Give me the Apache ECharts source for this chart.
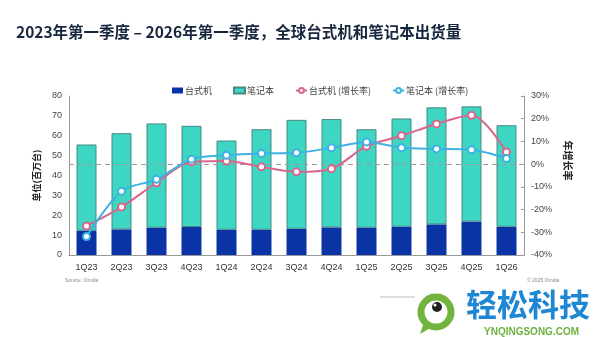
<!DOCTYPE html>
<html>
<head>
<meta charset="utf-8">
<script src="https://cdn.jsdelivr.net/npm/echarts@6/dist/echarts.min.js"></script>
<style>html,body{margin:0;padding:0;background:#fff;}#c{width:600px;height:337px;}</style>
</head>
<body>
<div id="c"></div>
<script>
const categories = ['1Q23','2Q23','3Q23','4Q23','1Q24','2Q24','3Q24','4Q24','1Q25','2Q25','3Q25','4Q25','1Q26'];
const desktop = [12.2, 12.9, 13.7, 14.1, 12.7, 12.7, 13.2, 13.9, 13.7, 14.2, 15.4, 16.8, 14.2];
const notebook = [43.4, 48.4, 52.5, 50.9, 44.9, 50.6, 54.8, 54.5, 49.6, 54.5, 58.9, 58.0, 51.1];
const desktopGrowth = [-27.2, -18.9, -8.2, 1.0, 1.4, -1.2, -3.4, -2.0, 7.9, 12.5, 17.7, 21.5, 5.4];
const notebookGrowth = [-31.9, -11.9, -6.7, 2.2, 3.9, 4.7, 5.0, 7.2, 9.8, 7.2, 6.7, 6.3, 2.5];
const leftTicks = {min: 0, max: 80, interval: 10};
const rightTicks = {min: -40, max: 30, interval: 10};

const chart = echarts.init(document.getElementById('c'), null, {renderer: 'canvas'});
const font = 'Arial, "Liberation Sans", "Noto Sans CJK SC", sans-serif';
const cjk = '"Noto Sans CJK SC", "Microsoft YaHei", sans-serif';

chart.setOption({
  backgroundColor: '#fff',
  animation: false,
  textStyle: {fontFamily: font},
  title: {
    text: '2023年第一季度 – 2026年第一季度，全球台式机和笔记本出货量',
    left: 11, top: 19,
    textStyle: {fontSize: 15.5, fontWeight: 'bold', color: '#17263d', fontFamily: '"Noto Sans CJK SC", Arial, sans-serif'}
  },
  legend: {
    left: 172, top: 86, padding: 0,
    itemWidth: 11, itemHeight: 6, itemGap: 21,
    textStyle: {fontSize: 9, color: '#444', fontFamily: cjk, padding: [0, 0, 0, -3]},
    data: [
      {name: '台式机', icon: 'rect'},
      {name: '笔记本', icon: 'rect'},
      {name: '台式机 (增长率)'},
      {name: '笔记本 (增长率)'}
    ]
  },
  grid: {left: 69, right: 76, top: 96, bottom: 82},
  xAxis: {
    type: 'category', data: categories,
    axisLine: {lineStyle: {color: '#999', width: 1}},
    axisTick: {show: false},
    axisLabel: {fontSize: 9, color: '#333', margin: 8}
  },
  yAxis: [
    {
      type: 'value', min: leftTicks.min, max: leftTicks.max, interval: leftTicks.interval,
      name: '单位(百万台)', nameLocation: 'middle', nameGap: 28, nameRotate: 90,
      nameTextStyle: {fontSize: 9, fontWeight: 'bold', color: '#222', fontFamily: cjk},
      axisLine: {show: true, lineStyle: {color: '#999'}},
      axisTick: {show: false},
      splitLine: {show: false},
      axisLabel: {fontSize: 9, color: '#444', margin: 7}
    },
    {
      type: 'value', min: rightTicks.min, max: rightTicks.max, interval: rightTicks.interval,
      name: '年增长率', nameLocation: 'middle', nameGap: 38, nameRotate: -90,
      nameTextStyle: {fontSize: 10, fontWeight: 'bold', color: '#222', fontFamily: cjk, padding: [0, 30, 0, 0]},
      axisLine: {show: true, lineStyle: {color: '#999'}},
      axisTick: {show: true, inside: true, length: 3, lineStyle: {color: '#999'}},
      splitLine: {show: false},
      axisLabel: {fontSize: 9, color: '#444', margin: 7, formatter: '{value}%'}
    }
  ],
  series: [
    {
      name: '台式机', type: 'bar', stack: 'total', data: desktop, barWidth: 20,
      itemStyle: {color: '#0a34a6'}
    },
    {
      name: '笔记本', type: 'bar', stack: 'total', data: notebook, barWidth: 20,
      itemStyle: {color: '#3dd6c3', borderColor: '#4a8884', borderWidth: 1}
    },
    {
      name: '台式机 (增长率)', type: 'line', yAxisIndex: 1, data: desktopGrowth,
      smooth: 0.3, symbol: 'circle', symbolSize: 7, z: 5,
      lineStyle: {color: '#d8678c', width: 2},
      itemStyle: {color: '#fff', borderColor: '#d8678c', borderWidth: 2},
      markLine: {
        silent: true, symbol: 'none', label: {show: false},
        lineStyle: {color: '#9a9a9a', type: [5, 4], width: 1.2},
        data: [{yAxis: 0}]
      }
    },
    {
      name: '笔记本 (增长率)', type: 'line', yAxisIndex: 1, data: notebookGrowth,
      smooth: 0.3, symbol: 'circle', symbolSize: 7, z: 6,
      lineStyle: {color: '#3cb3e3', width: 2},
      itemStyle: {color: '#fff', borderColor: '#3cb3e3', borderWidth: 2}
    }
  ],
  graphic: [
    {type: 'text', left: 65, top: 278, style: {text: 'Source: Omdia', fontSize: 5, fill: '#888', fontFamily: font}},
    {type: 'text', left: 527, top: 278, style: {text: '© 2025 Omdia', fontSize: 5, fill: '#888', fontFamily: font}},
    {type: 'line', shape: {x1: 380, y1: 297, x2: 415, y2: 297}, style: {stroke: '#bbb', lineWidth: 1}},
    {type: 'circle', shape: {cx: 436, cy: 312, r: 15}, style: {fill: 'none', stroke: '#72b43e', lineWidth: 7}},
    {type: 'polygon', shape: {points: [[424, 322], [432, 327], [420, 334]]}, style: {fill: '#72b43e'}},
    {type: 'circle', shape: {cx: 437, cy: 307, r: 5}, style: {fill: '#222'}},
    {type: 'circle', shape: {cx: 435, cy: 305, r: 1.5}, style: {fill: '#fff'}},
    {type: 'text', left: 466, top: 289, style: {text: '轻松科技', fontSize: 31, fontWeight: 'bold', fill: '#1e87d4', fontFamily: cjk}},
    {type: 'text', left: 484, top: 327, style: {text: 'YNQINGSONG.COM', fontSize: 10, fontWeight: 'bold', fill: '#6db23f', fontFamily: font}}
  ]
});
</script>
</body>
</html>
